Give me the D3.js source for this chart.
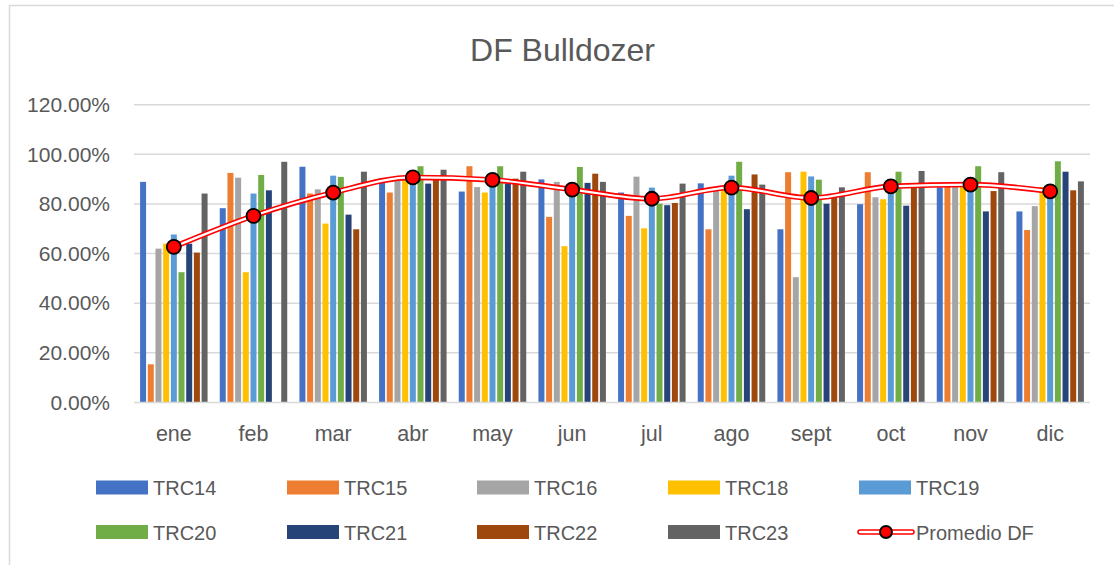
<!DOCTYPE html>
<html>
<head>
<meta charset="utf-8">
<script src="https://cdn.jsdelivr.net/npm/d3@7"></script>
<style>
html,body{margin:0;padding:0;background:#fff;}
svg{display:block;font-family:"Liberation Sans",Arial,sans-serif;}
</style>
</head>
<body>
<svg id="chart" width="1114" height="565"></svg>
<script>
const months = ["ene","feb","mar","abr","may","jun","jul","ago","sept","oct","nov","dic"];
const seriesNames = ["TRC14","TRC15","TRC16","TRC18","TRC19","TRC20","TRC21","TRC22","TRC23"];
const seriesColors = ["#4472C4","#ED7D31","#A5A5A5","#FFC000","#5B9BD5","#70AD47","#264478","#9E480E","#636363"];
const TRC14 = [0.889,0.783,0.950,0.902,0.850,0.899,0.846,0.883,0.698,0.799,0.867,0.770];
const TRC15 = [0.154,0.925,0.842,0.846,0.952,0.748,0.752,0.698,0.928,0.928,0.880,0.695];
const TRC16 = [0.620,0.906,0.859,0.911,0.868,0.889,0.910,0.855,0.505,0.827,0.880,0.791];
const TRC18 = [0.640,0.525,0.721,0.910,0.846,0.630,0.702,0.855,0.930,0.819,0.870,0.868];
const TRC19 = [0.677,0.842,0.914,0.900,0.870,0.880,0.866,0.914,0.911,0.860,0.880,0.828];
const TRC20 = [0.525,0.917,0.909,0.952,0.952,0.949,0.801,0.970,0.898,0.930,0.952,0.972];
const TRC21 = [0.640,0.855,0.757,0.882,0.882,0.885,0.795,0.779,0.801,0.793,0.770,0.930];
const TRC22 = [0.604,0.000,0.698,0.906,0.902,0.922,0.804,0.919,0.839,0.882,0.852,0.855];
const TRC23 = [0.842,0.970,0.930,0.938,0.930,0.889,0.882,0.878,0.867,0.933,0.928,0.891];
const promedioDF = [0.627,0.752,0.846,0.907,0.897,0.858,0.821,0.866,0.824,0.871,0.878,0.851];
const yTicks = [0,0.2,0.4,0.6,0.8,1.0,1.2];

const seriesValues = [TRC14,TRC15,TRC16,TRC18,TRC19,TRC20,TRC21,TRC22,TRC23];

const svg = d3.select("#chart");
const textColor = "#595959";

// chart border
svg.append("path").attr("d","M9.5,565 L9.5,5.5 L1114,5.5").attr("fill","none").attr("stroke","#D9D9D9").attr("stroke-width",1.5);

// title
svg.append("text").attr("x",562.5).attr("y",60.5).attr("text-anchor","middle")
  .attr("font-size",32).attr("fill",textColor).text("DF Bulldozer");

const plot = {left:134, right:1090, top:104.7, bottom:402.5};
const y = d3.scaleLinear().domain([0,1.2]).range([plot.bottom, plot.top]);
const x0 = d3.scaleBand().domain(months).range([plot.left, plot.right]).paddingInner(0.153).paddingOuter(0.0765);
const x1 = d3.scaleBand().domain(seriesNames).range([0, x0.bandwidth()]).paddingInner(0.22).paddingOuter(0);

// gridlines
svg.append("g").selectAll("line").data(yTicks.filter(t=>t>0)).join("line")
  .attr("x1",plot.left).attr("x2",plot.right)
  .attr("y1",d=>y(d)).attr("y2",d=>y(d))
  .attr("stroke","#D9D9D9").attr("stroke-width",1.5);

// y axis labels
const yAxis = d3.axisLeft(y).tickValues(yTicks).tickSize(0).tickPadding(0)
  .tickFormat(d=>(d*100).toFixed(2)+"%");
const gy = svg.append("g").attr("transform",`translate(110,0)`).call(yAxis);
gy.select(".domain").remove();
gy.selectAll("text").attr("font-size",21).attr("fill",textColor).attr("font-family","Liberation Sans, Arial, sans-serif");

// bars
const groups = svg.append("g").selectAll("g").data(months).join("g")
  .attr("transform",d=>`translate(${x0(d)},0)`);
groups.selectAll("rect").data((m,i)=>seriesNames.map((s,j)=>({s, j, v:seriesValues[j][i]}))).join("rect")
  .attr("x",d=>x1(d.s)).attr("width",x1.bandwidth())
  .attr("y",d=>y(d.v)).attr("height",d=>y(0)-y(d.v))
  .attr("fill",d=>seriesColors[d.j]);

// x axis baseline
svg.append("line").attr("x1",plot.left).attr("x2",plot.right).attr("y1",y(0)).attr("y2",y(0))
  .attr("stroke","#D9D9D9").attr("stroke-width",1.5);

// x axis labels
const xAxis = d3.axisBottom(x0).tickSize(0).tickPadding(0);
const gx = svg.append("g").attr("transform",`translate(0,${y(0)})`).call(xAxis);
gx.select(".domain").remove();
gx.selectAll("text").attr("font-size",21.5).attr("fill",textColor).attr("dy",null).attr("y",38.5)
  .attr("font-family","Liberation Sans, Arial, sans-serif");

// promedio line
const line = d3.line().x((d,i)=>x0(months[i])+x0.bandwidth()/2).y(d=>y(d)).curve(d3.curveMonotoneX);
svg.append("path").datum(promedioDF).attr("d",line).attr("fill","none").attr("stroke","#FF0000").attr("stroke-width",5.5);
svg.append("path").datum(promedioDF).attr("d",line).attr("fill","none").attr("stroke","#FFFFFF").attr("stroke-width",2.2);
svg.append("g").selectAll("circle").data(promedioDF).join("circle")
  .attr("cx",(d,i)=>x0(months[i])+x0.bandwidth()/2).attr("cy",d=>y(d)).attr("r",7)
  .attr("fill","#FF0000").attr("stroke","#000").attr("stroke-width",1.8);

// legend
const legendItems = seriesNames.map((s,j)=>({name:s,color:seriesColors[j],type:"bar"}))
  .concat([{name:"Promedio DF",type:"line"}]);
const colX = [96,287,477,668,859];
const rowY = [487.5,532];
const lg = svg.append("g").selectAll("g").data(legendItems).join("g")
  .attr("transform",(d,i)=>`translate(${colX[i%5]},${rowY[Math.floor(i/5)]})`);
lg.filter(d=>d.type==="bar").append("rect").attr("x",0).attr("y",-7).attr("width",52).attr("height",14).attr("fill",d=>d.color);
const ll = lg.filter(d=>d.type==="line");
ll.append("rect").attr("x",-1).attr("y",-2).attr("width",56).attr("height",4).attr("rx",2).attr("fill","#fff").attr("stroke","#FF0000").attr("stroke-width",1.6);
ll.append("circle").attr("cx",27).attr("cy",0).attr("r",6).attr("fill","#FF0000").attr("stroke","#000").attr("stroke-width",1.8);
lg.append("text").attr("x",57).attr("y",7.5).attr("font-size",20).attr("fill",textColor).text(d=>d.name);
</script>
</body>
</html>
